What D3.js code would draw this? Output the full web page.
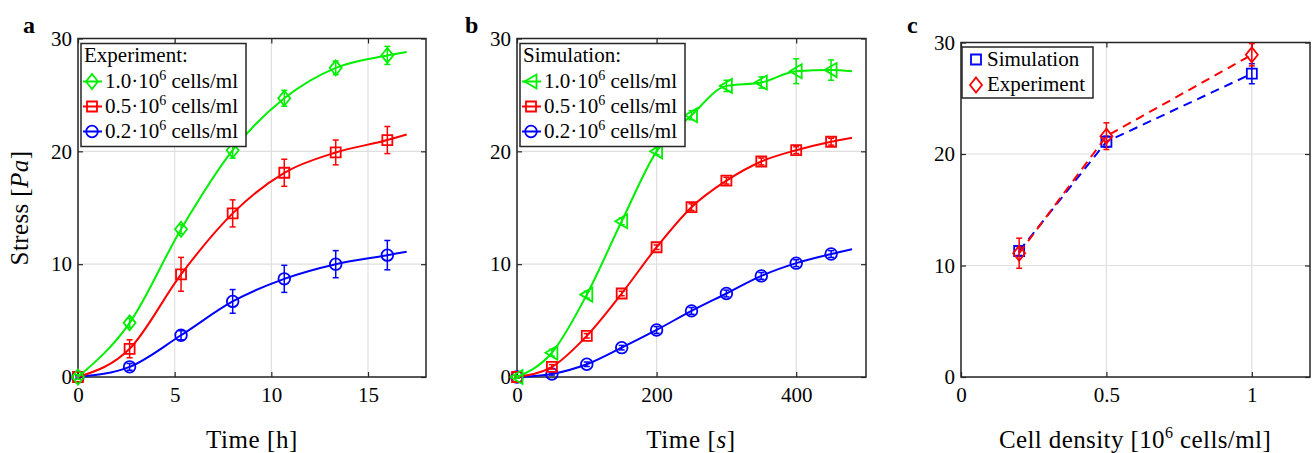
<!DOCTYPE html>
<html><head><meta charset="utf-8">
<script src="https://cdn.jsdelivr.net/npm/d3@7"></script>
<style>
body{margin:0;background:#fff}
svg{display:block}
text{font-family:"Liberation Serif","Times New Roman",serif;fill:#000}
</style>
</head><body><svg id="chart" width="1312" height="453"></svg>
<script>
// ---------- Panel a: experiment (time in hours) ----------
const expTime = [0, 2.67, 5.33, 8.0, 10.67, 13.33, 16.0, 17.0]; // last = curve end (no marker)
const exp10 = [0, 4.8, 13.1, 20.1, 24.7, 27.4, 28.5, 28.8];
const exp10Err = [0.2, 0.4, 0.4, 0.7, 0.7, 0.6, 0.8];
const exp05 = [0, 2.5, 9.1, 14.5, 18.1, 19.9, 21.0, 21.5];
const exp05Err = [0.2, 0.8, 1.5, 1.2, 1.2, 1.1, 1.2];
const exp02 = [0, 0.9, 3.7, 6.7, 8.7, 10.0, 10.8, 11.1];
const exp02Err = [0.1, 0.3, 0.4, 1.05, 1.2, 1.2, 1.3];
const expXTicks = [0, 5, 10, 15];

// ---------- Panel b: simulation (time in s) ----------
const simTime = [0, 50, 100, 150, 200, 250, 300, 350, 400, 450, 480]; // last = curve end
const sim10 = [0, 2.15, 7.3, 13.8, 20.0, 23.2, 25.8, 26.1, 27.1, 27.2, 27.1];
const sim10Err = [0.1, 0.3, 0.3, 0.3, 0.3, 0.4, 0.5, 0.5, 1.1, 0.9];
const sim05 = [0, 0.9, 3.65, 7.4, 11.5, 15.05, 17.4, 19.1, 20.1, 20.85, 21.2];
const sim05Err = [0.1, 0.2, 0.2, 0.2, 0.2, 0.3, 0.3, 0.3, 0.3, 0.3];
const sim02 = [0, 0.27, 1.13, 2.6, 4.17, 5.86, 7.4, 8.96, 10.09, 10.9, 11.33];
const sim02Err = [0.1, 0.1, 0.2, 0.2, 0.3, 0.3, 0.3, 0.3, 0.3, 0.3];
const simXTicks = [0, 200, 400];

// ---------- Panel c: stress vs density ----------
const densities = [0.2, 0.5, 1.0];
const densSim = [11.3, 21.1, 27.2];
const densSimErr = [0.4, 0.5, 0.9];
const densExp = [11.1, 21.6, 28.9];
const densExpErr = [1.35, 1.2, 1.0];
const densXTicks = [0, 0.5, 1];
const densXTickLabels = ["0", "0.5", "1"];

const yTicks = [0, 10, 20, 30];

const GREEN = "#00ee00", RED = "#ff0000", BLUE = "#0000ff";
const AX = "#262626", GRID = "#dfdfdf";
const LEG_FS = "21px", TITLE_FS = "25px";

const svg = d3.select("#chart");

function markerPath(type, cx, cy) {
  const p = d3.path();
  if (type === "diamond") {
    p.moveTo(cx, cy - 7.5); p.lineTo(cx + 6, cy); p.lineTo(cx, cy + 7.5); p.lineTo(cx - 6, cy); p.closePath();
  } else if (type === "square") {
    p.rect(cx - 5, cy - 5, 10, 10);
  } else if (type === "circle") {
    p.arc(cx, cy, 5.8, 0, 2 * Math.PI);
  } else if (type === "tri") {
    p.moveTo(cx - 6.5, cy); p.lineTo(cx + 5.5, cy - 7); p.lineTo(cx + 5.5, cy + 7); p.closePath();
  }
  return p.toString();
}

function makePanel(o) {
  const g = svg.append("g");
  const x = d3.scaleLinear().domain(o.xDomain).range([o.left, o.right]);
  const y = d3.scaleLinear().domain([0, 30]).range([o.bottom, o.top]);
  g.append("g").selectAll("line").data(o.xTicks).join("line")
    .attr("x1", d => x(d)).attr("x2", d => x(d)).attr("y1", o.top).attr("y2", o.bottom)
    .attr("stroke", GRID).attr("stroke-width", 1.2);
  g.append("g").selectAll("line").data(yTicks).join("line")
    .attr("x1", o.left).attr("x2", o.right).attr("y1", d => y(d)).attr("y2", d => y(d))
    .attr("stroke", GRID).attr("stroke-width", 1.2);
  const fmt = o.xTickFormat || (d => String(d));
  const bx = g.append("g").attr("transform", `translate(0,${o.bottom})`)
    .call(d3.axisBottom(x).tickValues(o.xTicks).tickFormat(fmt).tickSizeInner(-5).tickSizeOuter(0).tickPadding(10));
  const lx = g.append("g").attr("transform", `translate(${o.left},0)`)
    .call(d3.axisLeft(y).tickValues(yTicks).tickSizeInner(-5).tickSizeOuter(0).tickPadding(6));
  const tx = g.append("g").attr("transform", `translate(0,${o.top})`)
    .call(d3.axisTop(x).tickValues(o.xTicks).tickFormat("").tickSizeInner(-5).tickSizeOuter(0));
  const rx = g.append("g").attr("transform", `translate(${o.right},0)`)
    .call(d3.axisRight(y).tickValues(yTicks).tickFormat("").tickSizeInner(-5).tickSizeOuter(0));
  [bx, lx, tx, rx].forEach(a => {
    a.select(".domain").remove();
    a.selectAll(".tick line").attr("stroke", AX).attr("stroke-width", 1.2);
    a.selectAll("text").style("font-size", "21px").attr("fill", "#000")
      .style("font-family", '"Liberation Serif",serif');
  });
  g.append("rect").attr("x", o.left).attr("y", o.top)
    .attr("width", o.right - o.left).attr("height", o.bottom - o.top)
    .attr("fill", "none").attr("stroke", AX).attr("stroke-width", 1.5);
  return { g, x, y };
}

function drawSeries(P, xs, ys, errs, color, marker, dashed) {
  const line = d3.line().x((d, i) => P.x(xs[i])).y(d => P.y(d))
    .curve(dashed ? d3.curveLinear : d3.curveMonotoneX);
  P.g.append("path").datum(ys).attr("d", line).attr("fill", "none")
    .attr("stroke", color).attr("stroke-width", 2)
    .attr("stroke-dasharray", dashed ? "9,6" : null);
  const pts = errs.map((e, i) => ({ x: xs[i], y: ys[i], e }));
  const eg = P.g.append("g").attr("stroke", color).attr("stroke-width", 1.5).attr("fill", "none");
  pts.forEach(p => {
    const cx = P.x(p.x), y1 = P.y(p.y - p.e), y2 = P.y(p.y + p.e);
    eg.append("line").attr("x1", cx).attr("x2", cx).attr("y1", y1).attr("y2", y2);
    eg.append("line").attr("x1", cx - 3).attr("x2", cx + 3).attr("y1", y1).attr("y2", y1);
    eg.append("line").attr("x1", cx - 3).attr("x2", cx + 3).attr("y1", y2).attr("y2", y2);
  });
  P.g.append("g").selectAll("path").data(pts).join("path")
    .attr("d", p => markerPath(marker, P.x(p.x), P.y(p.y)))
    .attr("fill", "none").attr("stroke", color).attr("stroke-width", 1.8);
}

function cellsLabel(t, prefix) {
  t.append("tspan").text(prefix);
  t.append("tspan").text("6").attr("dy", -8).style("font-size", "14px");
  t.append("tspan").text(" cells/ml").attr("dy", 8);
}

function densityLegend(P, title, entries) {
  const L = P.g.append("g");
  const lx = P.x.range()[0];
  L.append("rect").attr("x", lx + 3).attr("y", 43.5).attr("width", 165).attr("height", 103)
    .attr("fill", "#fff").attr("stroke", AX).attr("stroke-width", 1.5);
  L.append("text").attr("x", lx + 6).attr("y", 62).style("font-size", LEG_FS).text(title);
  entries.forEach((e, i) => {
    const cy = 81.5 + i * 25;
    L.append("line").attr("x1", lx + 5).attr("x2", lx + 24).attr("y1", cy).attr("y2", cy)
      .attr("stroke", e.color).attr("stroke-width", 2);
    L.append("path").attr("d", markerPath(e.marker, lx + 14, cy)).attr("fill", "none")
      .attr("stroke", e.color).attr("stroke-width", 1.8);
    const t = L.append("text").attr("x", lx + 27).attr("y", cy + 6).style("font-size", LEG_FS);
    cellsLabel(t, e.label);
  });
}

// ---------- Panel a ----------
const A = makePanel({ left: 78, right: 426, top: 38.5, bottom: 377, xDomain: [0, 18], xTicks: expXTicks });
drawSeries(A, expTime, exp02, exp02Err, BLUE, "circle");
drawSeries(A, expTime, exp05, exp05Err, RED, "square");
drawSeries(A, expTime, exp10, exp10Err, GREEN, "diamond");
densityLegend(A, "Experiment:", [
  { label: "1.0·10", color: GREEN, marker: "diamond" },
  { label: "0.5·10", color: RED, marker: "square" },
  { label: "0.2·10", color: BLUE, marker: "circle" }]);

// ---------- Panel b ----------
const B = makePanel({ left: 517, right: 866, top: 38.5, bottom: 377, xDomain: [0, 500], xTicks: simXTicks });
drawSeries(B, simTime, sim02, sim02Err, BLUE, "circle");
drawSeries(B, simTime, sim05, sim05Err, RED, "square");
drawSeries(B, simTime, sim10, sim10Err, GREEN, "tri");
densityLegend(B, "Simulation:", [
  { label: "1.0·10", color: GREEN, marker: "tri" },
  { label: "0.5·10", color: RED, marker: "square" },
  { label: "0.2·10", color: BLUE, marker: "circle" }]);

// ---------- Panel c ----------
const C = makePanel({ left: 961, right: 1310, top: 42.5, bottom: 377, xDomain: [0, 1.2], xTicks: densXTicks,
  xTickFormat: (d, i) => densXTickLabels[i] });
drawSeries(C, densities, densSim, densSimErr, BLUE, "square", true);
drawSeries(C, densities, densExp, densExpErr, RED, "diamond", true);
{
  const L = C.g.append("g");
  L.append("rect").attr("x", 962).attr("y", 47).attr("width", 131).attr("height", 51)
    .attr("fill", "#fff").attr("stroke", AX).attr("stroke-width", 1.5);
  L.append("path").attr("d", markerPath("square", 976, 59.5)).attr("fill", "none").attr("stroke", BLUE).attr("stroke-width", 1.8);
  L.append("path").attr("d", markerPath("diamond", 976, 85)).attr("fill", "none").attr("stroke", RED).attr("stroke-width", 1.8);
  L.append("text").attr("x", 987).attr("y", 65.5).style("font-size", LEG_FS).text("Simulation");
  L.append("text").attr("x", 987).attr("y", 91).style("font-size", LEG_FS).text("Experiment");
}

// ---------- Axis titles & panel letters ----------
const yl = svg.append("text").attr("transform", "translate(28,208) rotate(-90)")
  .attr("text-anchor", "middle").style("font-size", TITLE_FS).style("letter-spacing", "0.4px");
yl.append("tspan").text("Stress [");
yl.append("tspan").text("Pa").style("font-style", "italic");
yl.append("tspan").text("]");

svg.append("text").attr("x", 252).attr("y", 448).attr("text-anchor", "middle")
  .style("font-size", TITLE_FS).style("letter-spacing", "0.6px").text("Time [h]");
const tb = svg.append("text").attr("x", 691).attr("y", 448).attr("text-anchor", "middle")
  .style("font-size", TITLE_FS).style("letter-spacing", "0.6px");
tb.append("tspan").text("Time [");
tb.append("tspan").text("s").style("font-style", "italic");
tb.append("tspan").text("]");
const tc = svg.append("text").attr("x", 1135).attr("y", 448).attr("text-anchor", "middle")
  .style("font-size", TITLE_FS).style("letter-spacing", "0.4px");
tc.append("tspan").text("Cell density [10");
tc.append("tspan").text("6").attr("dy", -10).style("font-size", "16px");
tc.append("tspan").text(" cells/ml]").attr("dy", 10);

[["a", 23], ["b", 465], ["c", 907]].forEach(([l, x]) => {
  svg.append("text").attr("x", x).attr("y", 33).style("font-size", "24px").style("font-weight", "bold").text(l);
});
</script>
</body></html>
